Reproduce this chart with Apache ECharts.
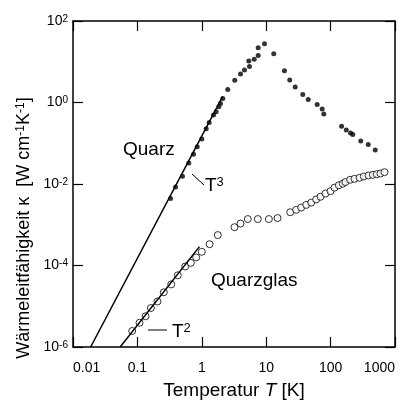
<!DOCTYPE html>
<html>
<head>
<meta charset="utf-8">
<script src="https://cdn.jsdelivr.net/npm/echarts@6/dist/echarts.min.js"></script>
<style>
  html, body { margin: 0; padding: 0; background: #fff; }
  #chart { width: 401px; height: 405px; }
</style>
</head>
<body>
<div id="chart"></div>
<script>
// Quarz (kristallin), gefüllte Punkte
const quarzT = [0.327, 0.391, 0.501, 0.628, 0.743, 0.849, 1.0, 1.17, 1.30, 1.52, 1.67, 1.84, 1.95, 2.12, 2.53, 3.25, 3.99, 4.60, 5.37, 5.50, 6.51, 7.51, 7.51, 9.41, 13.1, 19.2, 23.2, 28.2, 37.0, 44.9, 61.9, 74.1, 78.4, 148, 175, 204, 221, 294, 384, 493]
const quarzK = [4.43e-3, 8.47e-3, 0.0156, 0.0326, 0.0537, 0.0824, 0.128, 0.227, 0.324, 0.494, 0.597, 0.788, 0.946, 1.25, 2.09, 3.52, 5.0, 6.24, 10.4, 7.66, 11.5, 14.3, 22.0, 27.5, 15.8, 6.0, 3.58, 2.39, 1.58, 1.18, 0.895, 0.69, 0.523, 0.26, 0.211, 0.179, 0.163, 0.113, 0.0935, 0.0686]
// Quarzglas, offene Kreise
const glasT = [0.083, 0.108, 0.134, 0.162, 0.205, 0.257, 0.335, 0.424, 0.552, 0.675, 0.818, 1.0, 1.32, 1.77, 3.22, 3.99, 5.18, 7.41, 11.0, 15.0, 23.6, 29.2, 34.9, 41.8, 50.0, 59.7, 69.7, 83.3, 99.6, 115, 134, 155, 170, 201, 235, 281, 328, 388, 452, 521, 595, 687]
const glasK = [2.47e-6, 3.94e-6, 5.68e-6, 9.05e-6, 1.31e-5, 2.20e-5, 3.43e-5, 5.74e-5, 9.46e-5, 1.16e-4, 1.58e-4, 2.17e-4, 3.33e-4, 5.58e-4, 8.71e-4, 1.07e-3, 1.38e-3, 1.38e-3, 1.38e-3, 1.46e-3, 2.03e-3, 2.32e-3, 2.64e-3, 3.07e-3, 3.49e-3, 4.19e-3, 4.86e-3, 5.84e-3, 6.67e-3, 8.14e-3, 9.31e-3, 0.0102, 0.0112, 0.0127, 0.0134, 0.0142, 0.0153, 0.0162, 0.0168, 0.0174, 0.0181, 0.0195]
// Geraden T^3 und T^2 (Endpunkte)
const lineT3T = [0.0188, 2.1]
const lineT3K = [1e-6, 1.4]
const lineT2T = [0.054, 0.92]
const lineT2K = [1e-6, 2.9e-4]
// Achsen
const xTicks = [0.01, 0.1, 1, 10, 100, 1000]
const yExp = [-6, -4, -2, 0, 2]

const font = 'Liberation Sans, Arial, sans-serif'
const zip = (a, b) => a.map((v, i) => [v, b[i]])

const supRich = (size, sup, pad) => ({
  b: { fontSize: size, fontFamily: font, color: '#000', verticalAlign: 'bottom', lineHeight: size, padding: [pad, 0, 0, 0] },
  sup: { fontSize: sup, fontFamily: font, color: '#000', verticalAlign: 'top', lineHeight: sup },
  i: { fontSize: size, fontFamily: font, color: '#000', fontStyle: 'italic', verticalAlign: 'bottom', lineHeight: size, padding: [pad, 0, 0, 0] }
})

const chart = echarts.init(document.getElementById('chart'))

const baseX = {
  type: 'log',
  logBase: 10,
  min: xTicks[0],
  max: xTicks[xTicks.length - 1],
  axisLine: { show: true, onZero: false, lineStyle: { color: '#000', width: 1.5 } },
  axisTick: { show: true, inside: true, length: 10, lineStyle: { color: '#000', width: 1.2 } },
  minorTick: { show: false },
  splitLine: { show: false }
}
const baseY = {
  type: 'log',
  logBase: 10,
  min: Math.pow(10, yExp[0]),
  max: Math.pow(10, yExp[yExp.length - 1]),
  interval: 2,
  axisLine: { show: true, onZero: false, lineStyle: { color: '#000', width: 1.5 } },
  axisTick: { show: true, inside: true, length: 10, lineStyle: { color: '#000', width: 1.2 } },
  minorTick: { show: false },
  splitLine: { show: false }
}

const options = {
  animation: false,
  backgroundColor: '#fff',
  grid: { left: 73, right: 6, top: 21, bottom: 53 },
  xAxis: [
    Object.assign({}, baseX, {
      position: 'bottom',
      axisLabel: {
        margin: 14,
        fontSize: 14,
        fontFamily: font,
        color: '#000',
        alignMinLabel: 'left',
        alignMaxLabel: 'right',
        formatter: v => String(v)
      },
      name: 'Temperatur {i|T} [K]',
      nameLocation: 'middle',
      nameGap: 34,
      nameTextStyle: { fontSize: 19, fontFamily: font, color: '#000', rich: supRich(19, 13, 0) }
    }),
    Object.assign({}, baseX, { position: 'top', axisLabel: { show: false } })
  ],
  yAxis: [
    Object.assign({}, baseY, {
      position: 'left',
      axisLabel: {
        margin: 5,
        formatter: v => '{b|10}{sup|' + Math.round(Math.log10(v)) + '}',
        rich: supRich(14, 10, 3)
      },
      name: '{b|Wärmeleitfähigkeit κ  [W cm}{sup|-1}{b|K}{sup|-1}{b|]}',
      nameLocation: 'middle',
      nameRotate: 90,
      nameGap: 29,
      nameTextStyle: { fontSize: 18, fontFamily: font, color: '#000', padding: [0, 88, 0, 0], rich: supRich(18, 12, 4) }
    }),
    Object.assign({}, baseY, { position: 'right', axisLabel: { show: false } })
  ],
  series: [
    {
      name: 'T3',
      type: 'line',
      data: zip(lineT3T, lineT3K),
      symbol: 'none',
      lineStyle: { color: '#000', width: 1.5 },
      silent: true
    },
    {
      name: 'T2',
      type: 'line',
      data: zip(lineT2T, lineT2K),
      symbol: 'none',
      lineStyle: { color: '#000', width: 1.5 },
      silent: true
    },
    {
      name: 'Quarz',
      type: 'scatter',
      data: zip(quarzT, quarzK),
      symbol: 'circle',
      symbolSize: 5,
      itemStyle: { color: '#000' }
    },
    {
      name: 'Quarzglas',
      type: 'scatter',
      data: zip(glasT, glasK),
      symbol: 'circle',
      symbolSize: 7,
      itemStyle: { color: '#fff', borderColor: '#000', borderWidth: 1 }
    }
  ],
  graphic: [
    { type: 'text', left: 123, top: 140, style: { text: 'Quarz', font: '19px ' + font, fill: '#000' } },
    { type: 'text', left: 211, top: 271, style: { text: 'Quarzglas', font: '19px ' + font, fill: '#000' } },
    { type: 'line', shape: { x1: 192, y1: 174, x2: 204, y2: 185 }, style: { stroke: '#000', lineWidth: 1 } },
    { type: 'text', left: 205, top: 172, style: { text: '{b|T}{sup|3}', rich: supRich(19, 13, 4) } },
    { type: 'line', shape: { x1: 148, y1: 330, x2: 167, y2: 330 }, style: { stroke: '#000', lineWidth: 1 } },
    { type: 'text', left: 172, top: 318, style: { text: '{b|T}{sup|2}', rich: supRich(19, 13, 4) } }
  ]
}
chart.setOption(options)
window.addEventListener('resize', function () {
  chart && chart.resize()
})
</script>
</body>
</html>
